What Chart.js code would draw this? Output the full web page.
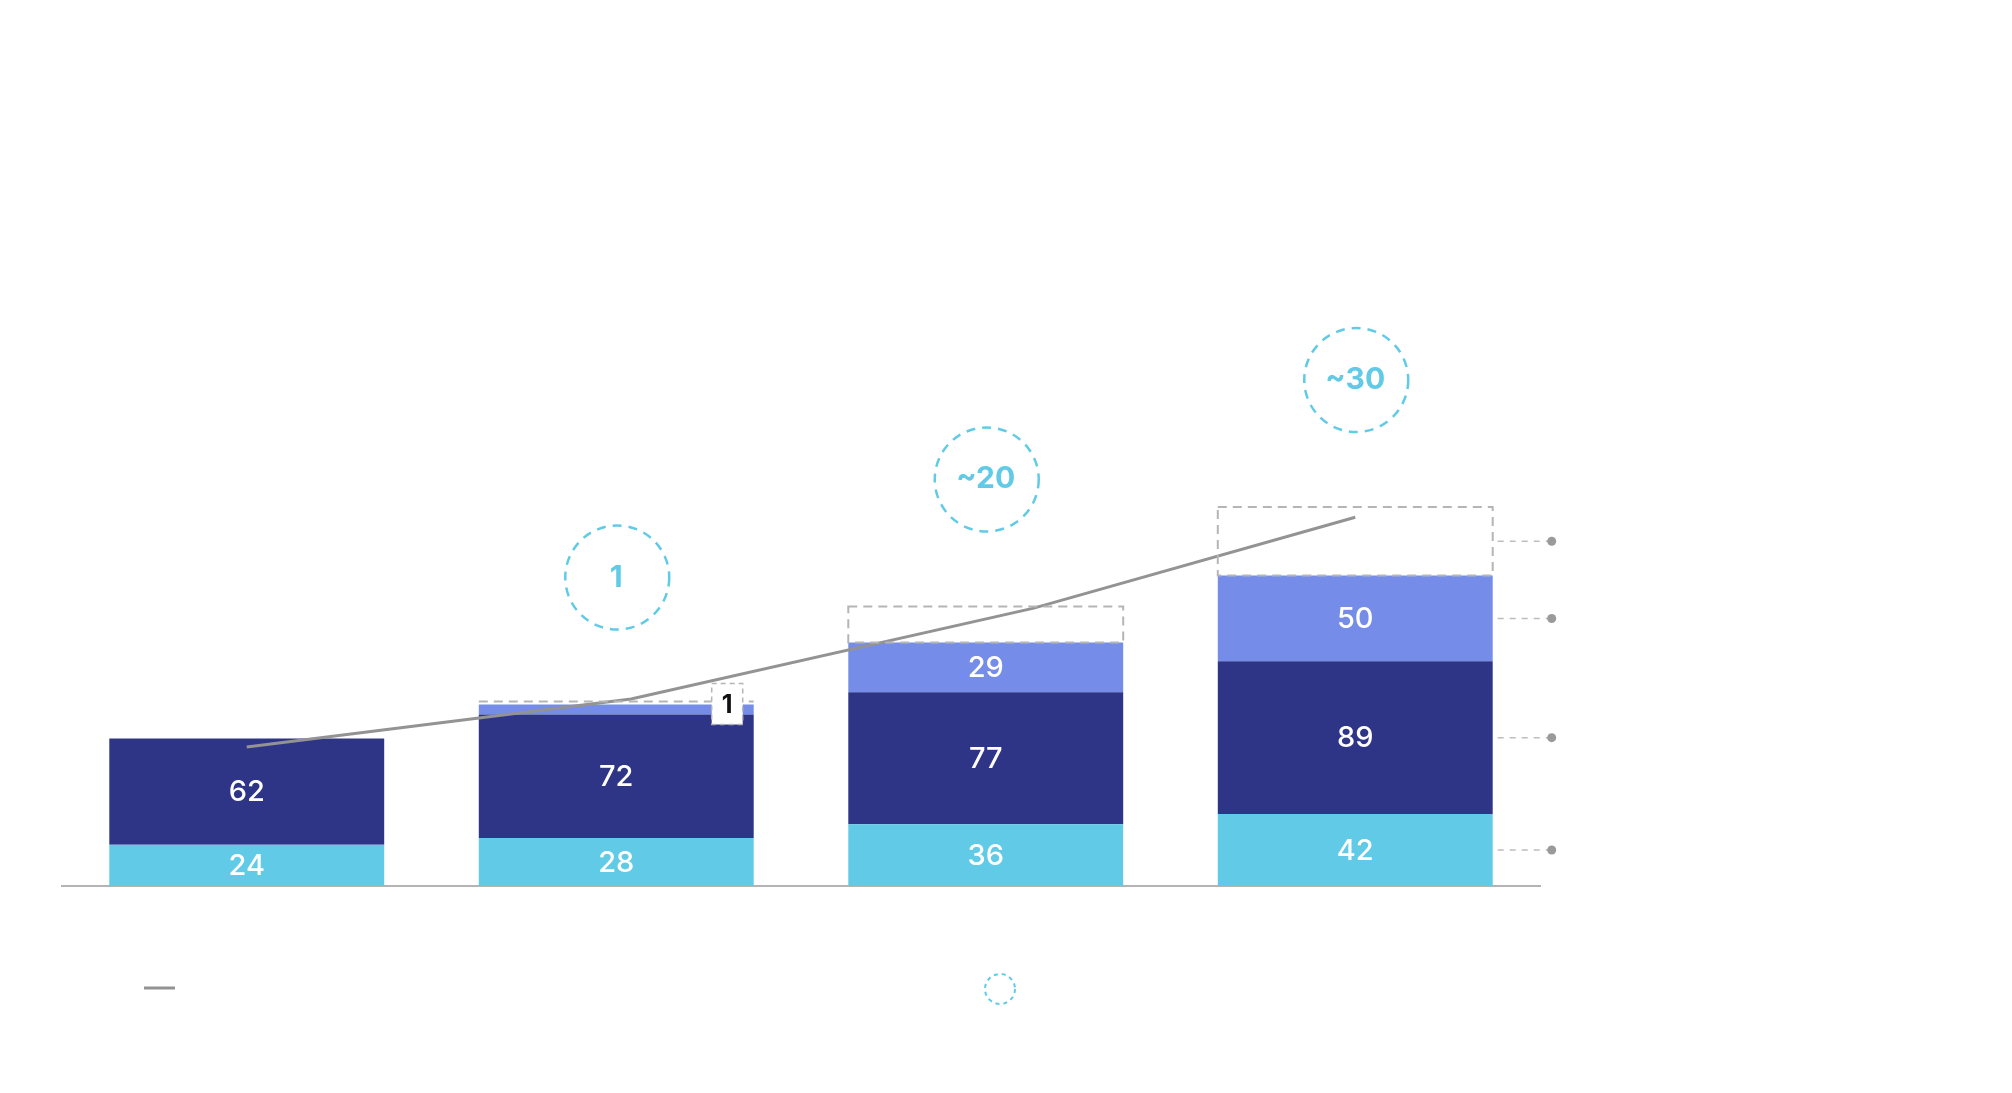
<!DOCTYPE html>
<html>
<head>
<meta charset="utf-8">
<script src="https://cdn.jsdelivr.net/npm/chart.js@4.4.1/dist/chart.umd.min.js"></script>
<style>
  html, body { margin: 0; padding: 0; background: #fff; }
  #wrap { width: 2012px; height: 1093px; position: relative; }
</style>
</head>
<body>
<div id="wrap"><canvas id="chart"></canvas></div>
<script>
// Dados
var categories = ['', '', '', ''];
var baseValues = [24, 28, 36, 42];
var midValues = [62, 72, 77, 89];
var topValues = [null, 1, 29, 50];
var potentialValues = [null, null, 21, 40];
var lineX = [0, 1.04, 2.13, 3.0];
var lineY = [81, 109, 162, 215];
var circleLabels = [null, '1', '~20', '~30'];

var CYAN = '#61cbe7';
var NAVY = '#2e3587';
var PERI = '#758de8';
var GREY = '#939393';
var DASH_GREY = '#b5b5b5';
var FONT = 'Inter, "Open Sans", sans-serif';

// Plugin para caixas tracejadas, rótulos, círculos e legenda
var overlay = {
  id: 'overlay',
  afterDatasetsDraw: function (chart) {
    var ctx = chart.ctx;
    var metas = [0, 1, 2, 3].map(function (i) { return chart.getDatasetMeta(i); });
    var series = [baseValues, midValues, topValues, potentialValues];
    ctx.save();

    // caixas tracejadas (potencial)
    ctx.setLineDash([9, 6]);
    ctx.strokeStyle = DASH_GREY;
    ctx.lineWidth = 2;
    metas[3].data.forEach(function (el, i) {
      if (potentialValues[i] == null) return;
      var p = el.getProps(['x', 'y', 'base', 'width'], true);
      ctx.strokeRect(p.x - p.width / 2, p.y, p.width, p.base - p.y);
    });

    // rótulos dentro das barras
    ctx.setLineDash([]);
    ctx.fillStyle = '#fff';
    ctx.font = '500 29px ' + FONT;
    ctx.textAlign = 'center';
    ctx.textBaseline = 'middle';
    for (var d = 0; d < 3; d++) {
      metas[d].data.forEach(function (el, i) {
        var v = series[d][i];
        if (v == null || v < 5) return;
        var p = el.getProps(['x', 'y', 'base'], true);
        ctx.fillText(String(v), p.x, (p.y + p.base) / 2 + 1);
      });
    }

    // segmento pequeno (valor 1) com caixa de rótulo
    metas[2].data.forEach(function (el, i) {
      var v = topValues[i];
      if (v == null || v >= 5) return;
      var p = el.getProps(['x', 'y', 'base', 'width'], true);
      var left = p.x - p.width / 2, right = p.x + p.width / 2;
      ctx.setLineDash([9, 6]);
      ctx.strokeStyle = DASH_GREY;
      ctx.lineWidth = 2;
      ctx.beginPath();
      ctx.moveTo(left, p.y - 3);
      ctx.lineTo(right, p.y - 3);
      ctx.stroke();
      var bx = right - 42, by = p.y - 21, bw = 31, bh = 41;
      ctx.setLineDash([]);
      ctx.fillStyle = '#fff';
      ctx.fillRect(bx, by, bw, bh);
      ctx.setLineDash([5, 4]);
      ctx.lineWidth = 1.5;
      ctx.strokeRect(bx, by, bw, bh);
      ctx.fillStyle = '#111';
      ctx.font = '700 25px ' + FONT;
      ctx.fillText(String(v), bx + bw / 2, by + bh / 2 + 1);
    });

    // linhas guia à direita da última barra
    var last = metas[0].data.length - 1;
    metas.forEach(function (m, d) {
      if (series[d][last] == null) return;
      var p = m.data[last].getProps(['x', 'y', 'base', 'width'], true);
      var y = (p.y + p.base) / 2;
      var x0 = p.x + p.width / 2 + 5;
      ctx.setLineDash([6, 6]);
      ctx.strokeStyle = '#bdbdbd';
      ctx.lineWidth = 1.5;
      ctx.beginPath();
      ctx.moveTo(x0, y);
      ctx.lineTo(x0 + 52, y);
      ctx.stroke();
      ctx.setLineDash([]);
      ctx.fillStyle = '#9a9a9a';
      ctx.beginPath();
      ctx.arc(x0 + 54, y, 4.5, 0, Math.PI * 2);
      ctx.fill();
    });

    // círculos tracejados acima das barras
    circleLabels.forEach(function (txt, i) {
      if (!txt) return;
      var top = Infinity, cx = 0;
      metas.forEach(function (m, d) {
        if (series[d][i] == null) return;
        var p = m.data[i].getProps(['x', 'y'], true);
        cx = p.x;
        top = Math.min(top, p.y);
      });
      var cy = top - 127;
      ctx.setLineDash([9, 7]);
      ctx.strokeStyle = CYAN;
      ctx.lineWidth = 2.5;
      ctx.beginPath();
      ctx.arc(cx + 1, cy, 52, 0, Math.PI * 2);
      ctx.stroke();
      ctx.setLineDash([]);
      ctx.fillStyle = CYAN;
      ctx.font = '700 30px ' + FONT;
      ctx.fillText(txt, cx, cy);
    });

    // legenda
    ctx.strokeStyle = GREY;
    ctx.lineWidth = 3;
    ctx.beginPath();
    ctx.moveTo(144, 988);
    ctx.lineTo(175, 988);
    ctx.stroke();
    ctx.setLineDash([4, 4]);
    ctx.strokeStyle = CYAN;
    ctx.lineWidth = 2;
    ctx.beginPath();
    ctx.arc(1000, 989, 15, 0, Math.PI * 2);
    ctx.stroke();

    ctx.restore();
  }
};

var ctx = document.getElementById('chart').getContext('2d');
var myChart = new Chart(ctx, {
  data: {
    labels: categories,
    datasets: [
      { type: 'bar', data: baseValues, backgroundColor: CYAN },
      { type: 'bar', data: midValues, backgroundColor: NAVY },
      { type: 'bar', data: topValues, backgroundColor: PERI, minBarLength: 10 },
      { type: 'bar', data: potentialValues, backgroundColor: 'rgba(0,0,0,0)' },
      {
        type: 'line',
        data: lineX.map(function (x, i) { return { x: x, y: lineY[i] }; }),
        xAxisID: 'x2',
        borderColor: GREY,
        borderWidth: 3,
        pointRadius: 0,
        tension: 0,
        order: -1
      }
    ]
  },
  options: {
    responsive: true,
    maintainAspectRatio: false,
    animation: false,
    layout: { padding: { left: 62, right: 472, top: 200, bottom: 199 } },
    datasets: { bar: { categoryPercentage: 1, barPercentage: 0.744, grouped: false } },
    plugins: { legend: { display: false }, tooltip: { enabled: false } },
    scales: {
      x: {
        stacked: true,
        grid: { display: false },
        ticks: { display: false },
        border: { color: '#b4b4b4', width: 2 }
      },
      x2: { type: 'linear', min: -0.5, max: 3.5, display: false },
      y: { stacked: true, min: 0, max: 400, display: false }
    }
  },
  plugins: [overlay]
});
</script>
</body>
</html>
